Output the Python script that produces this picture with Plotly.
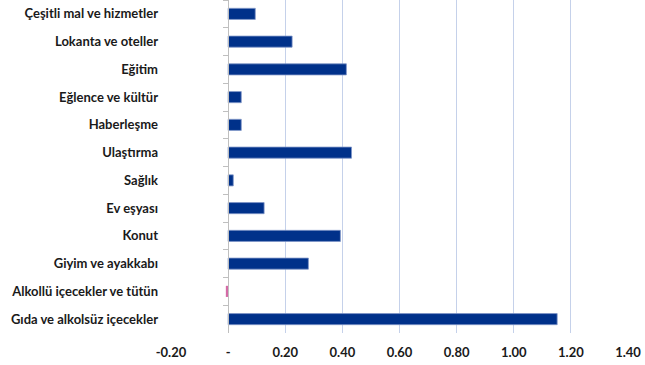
import plotly.graph_objects as go

categories = [
    "Çeşitli mal ve hizmetler",
    "Lokanta ve oteller",
    "Eğitim",
    "Eğlence ve kültür",
    "Haberleşme",
    "Ulaştırma",
    "Sağlık",
    "Ev eşyası",
    "Konut",
    "Giyim ve ayakkabı",
    "Alkollü içecekler ve tütün",
    "Gıda ve alkolsüz içecekler",
]
values = [0.095, 0.224, 0.414, 0.046, 0.046, 0.432, 0.018, 0.126, 0.393, 0.281, -0.008, 1.152]
tick_vals = [-0.2, 0, 0.2, 0.4, 0.6, 0.8, 1.0, 1.2, 1.4]
tick_text = ["-0.20", "-", "0.20", "0.40", "0.60", "0.80", "1.00", "1.20", "1.40"]

x_min, x_max = -0.2, 1.4
pos_color = "#00318A"
neg_color = "#D46AA6"
colors = [neg_color if v < 0 else pos_color for v in values]
edge_colors = [neg_color if v < 0 else "#7F96C8" for v in values]
edge_widths = [0 if v < 0 else 0.8 for v in values]

font_family = "Lato, 'Open Sans', sans-serif"
n = len(categories)
y_range = [n - 0.5, -0.5]

fig = go.Figure()
fig.add_trace(go.Bar(
    x=values, y=categories, orientation="h",
    marker=dict(color=colors, line=dict(width=edge_widths, color=edge_colors)),
    width=0.4, hoverinfo="x+y", showlegend=False,
))
# invisible helper trace for the category axis drawn at zero
fig.add_trace(go.Scatter(
    x=[0] * n, y=categories, yaxis="y2",
    mode="markers", marker=dict(opacity=0), hoverinfo="skip", showlegend=False,
))

fig.update_layout(
    width=645, height=365,
    margin=dict(l=171, r=17, t=0, b=32),
    paper_bgcolor="white", plot_bgcolor="white",
    font=dict(family=font_family, size=13, color="#1a1a1a"),
    xaxis=dict(
        range=[x_min, x_max], tickvals=tick_vals, ticktext=tick_text,
        showgrid=True, gridcolor="#C5D1EA", gridwidth=1,
        zeroline=False, showline=False, ticks="",
        ticklabelstandoff=10,
        tickfont=dict(family=font_family, size=13, color="#1a1a1a", weight=700),
    ),
    yaxis=dict(
        categoryorder="array", categoryarray=categories,
        range=y_range, autorange=False,
        showgrid=False, zeroline=False, showline=False, ticks="",
        ticklabelstandoff=12,
        tickfont=dict(family=font_family, size=13, color="#1a1a1a", weight=700),
    ),
    yaxis2=dict(
        overlaying="y", matches="y", anchor="free",
        position=(0 - x_min) / (x_max - x_min),
        range=y_range, autorange=False,
        showline=True, linecolor="#BFBFBF", linewidth=1,
        ticks="outside", tickson="boundaries", ticklen=5, tickcolor="#BFBFBF",
        showticklabels=False, showgrid=False, zeroline=False,
    ),
)

fig.write_html("out.html")
